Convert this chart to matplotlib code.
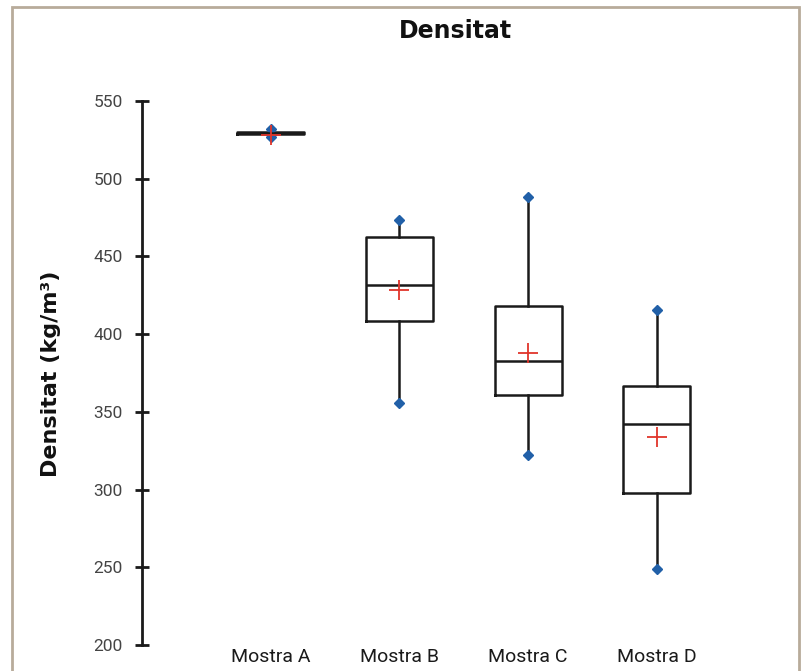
import matplotlib.pyplot as plt

plt.rcParams['font.family'] = ['Roboto', 'DejaVu Sans']

samples = ['Mostra A', 'Mostra B', 'Mostra C', 'Mostra D']
whis_low = [527, 355.5, 322, 249]
q1 = [529, 408.5, 361, 297.5]
medians = [529.5, 431.5, 383, 342]
q3 = [530, 462.5, 418, 366.5]
whis_high = [532, 473.5, 488, 415.5]
means = [528, 428.5, 388, 334]

stats = []
for i, name in enumerate(samples):
    stats.append({
        'label': name,
        'whislo': whis_low[i], 'q1': q1[i], 'med': medians[i],
        'q3': q3[i], 'whishi': whis_high[i], 'mean': means[i],
        'fliers': [whis_low[i], whis_high[i]],
    })

fig = plt.figure(figsize=(8.03, 6.71), dpi=100)
ax = fig.add_axes([0.1768, 0.0387, 0.7696, 0.8107])

ax.bxp(stats, positions=[1, 2, 3, 4], widths=0.52, showmeans=True, showcaps=False,
       boxprops=dict(color='#1a1a1a', linewidth=1.8),
       medianprops=dict(color='#1a1a1a', linewidth=1.8),
       whiskerprops=dict(color='#1a1a1a', linewidth=1.8),
       flierprops=dict(marker='D', markerfacecolor='#2160a8', markeredgecolor='#2160a8', markersize=5),
       meanprops=dict(marker='+', markeredgecolor='#e0352b', markersize=14, markeredgewidth=1.3))

ax.set_xlim(0, 4.8)
ax.set_ylim(200, 550)
ax.set_yticks(range(200, 551, 50))
for s in ['top', 'right', 'bottom']:
    ax.spines[s].set_visible(False)
ax.spines['left'].set_linewidth(2)
ax.spines['left'].set_color('#1a1a1a')
ax.tick_params(axis='y', direction='inout', length=10, width=2, color='#1a1a1a',
               pad=9, labelsize=12.5, labelcolor='#444444')
ax.tick_params(axis='x', length=0, pad=2, labelsize=14, labelcolor='#1a1a1a')

fig.text(0.063, 0.443, 'Densitat (kg/m³)', rotation=90, ha='center', va='center',
         fontsize=16, fontweight='bold', color='#111111', family='DejaVu Sans')
fig.text(0.567, 0.954, 'Densitat', ha='center', va='center',
         fontsize=17, fontweight='bold', color='#111111', family='DejaVu Sans')

border = plt.Rectangle((0.0145, -0.01), 0.981, 1.0, transform=fig.transFigure,
                       fill=False, edgecolor='#b8ab9a', linewidth=2)
fig.patches.append(border)

fig.savefig('out.png', dpi=100)
